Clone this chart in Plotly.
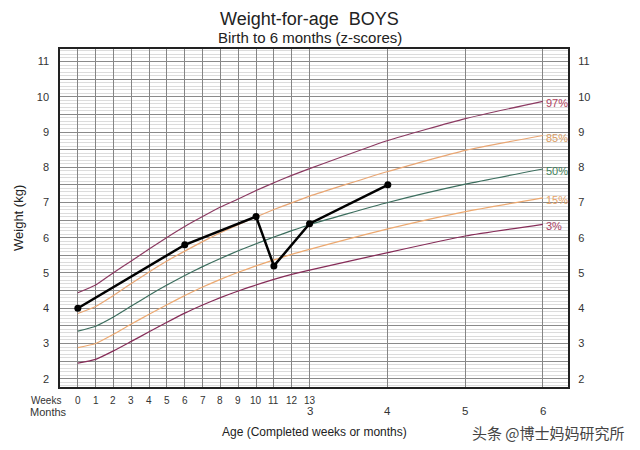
import plotly.graph_objects as go

# ---- data ----
WEEKS_PER_MONTH = 30.4375 / 7
week_ticks = list(range(0, 14))
month_ticks = [3, 4, 5, 6]
age_weeks = list(range(0, 14)) + [m * WEEKS_PER_MONTH for m in [4, 5, 6]]

p97 = [4.44, 4.66, 5.01, 5.34, 5.68, 6.01, 6.32, 6.6, 6.87, 7.1, 7.34, 7.56, 7.77, 7.96, 8.76, 9.38, 9.87]
p85 = [3.85, 4.05, 4.36, 4.7, 5.03, 5.34, 5.62, 5.89, 6.14, 6.37, 6.59, 6.8, 6.99, 7.18, 7.88, 8.48, 8.9]
p50 = [3.35, 3.49, 3.75, 4.06, 4.37, 4.66, 4.93, 5.18, 5.41, 5.63, 5.83, 6.02, 6.2, 6.37, 7.0, 7.52, 7.95]
p15 = [2.88, 3.0, 3.26, 3.55, 3.83, 4.1, 4.36, 4.6, 4.82, 5.02, 5.2, 5.37, 5.53, 5.67, 6.25, 6.74, 7.13]
p3 = [2.44, 2.55, 2.79, 3.06, 3.33, 3.6, 3.86, 4.09, 4.3, 4.49, 4.66, 4.82, 4.96, 5.08, 5.58, 6.05, 6.38]

child_weeks = [0, 6, 10, 11, 13, 4 * WEEKS_PER_MONTH]
child_kg = [4.0, 5.8, 6.6, 5.2, 6.4, 7.5]

y_ticks = [2, 3, 4, 5, 6, 7, 8, 9, 10, 11]

curves = [
    ("97%", p97, "#8c3a62", "#b0435e"),
    ("85%", p85, "#e9a673", "#d99c62"),
    ("50%", p50, "#3c6e5e", "#3f7f5a"),
    ("15%", p15, "#eda970", "#e8a468"),
    ("3%", p3, "#862c58", "#a83d62"),
]

FONT = "Liberation Sans, Arial, sans-serif"

fig = go.Figure()
for name, vals, col, lcol in curves:
    fig.add_trace(go.Scatter(x=age_weeks, y=vals, mode="lines",
                             line=dict(color=col, width=1.2, shape="spline", smoothing=0.5),
                             hoverinfo="skip", showlegend=False))
    fig.add_annotation(x=age_weeks[-1], y=vals[-1], xref="x", yref="y", text=name,
                       showarrow=False, xanchor="left", yanchor="middle", xshift=1, yshift=-2,
                       font=dict(family=FONT, size=11, color=lcol))

fig.add_trace(go.Scatter(x=child_weeks, y=child_kg, mode="lines+markers",
                         line=dict(color="black", width=2.5),
                         marker=dict(color="black", size=7),
                         showlegend=False))
# invisible trace for right axis
fig.add_trace(go.Scatter(x=[age_weeks[0]], y=[p50[0]], yaxis="y2", mode="markers",
                         marker=dict(opacity=0), showlegend=False, hoverinfo="skip"))

half_vals = [v / 2 for v in range(4, 23)]
half_text = [str(int(v)) if v in y_ticks else "" for v in half_vals]

yaxis_common = dict(
    range=[1.765, 11.355], tickmode="array", tickvals=half_vals, ticktext=half_text,
    ticks="outside", ticklen=7, tickcolor="rgba(0,0,0,0)", automargin=False,
    tickfont=dict(family=FONT, size=11, color="#333"), zeroline=False, fixedrange=True,
)

grid_x = week_ticks + [m * WEEKS_PER_MONTH for m in month_ticks[1:]]

fig.update_layout(
    width=640, height=450,
    margin=dict(l=52, r=80, t=41, b=71, autoexpand=False),
    paper_bgcolor="white", plot_bgcolor="white",
    xaxis=dict(range=[-1.0, 27.5], tickmode="array", tickvals=grid_x, showticklabels=False,
               showgrid=True, gridcolor="#858585", gridwidth=1, zeroline=False, automargin=False,
               showline=True, linecolor="#222", linewidth=1.5, mirror=True, ticks=""),
    yaxis=dict(**yaxis_common, side="left", showgrid=True, gridcolor="#8a8a8a", gridwidth=1,
               minor=dict(tickmode="linear", tick0=0, dtick=0.1, showgrid=True,
                          gridcolor="#dcdcdc", gridwidth=1),
               showline=True, linecolor="#222", linewidth=1.5, mirror=True),
    yaxis2=dict(**yaxis_common, side="right", overlaying="y", matches="y", showgrid=False),
)

# title and subtitle
fig.add_annotation(x=0.492, y=1.0, xref="paper", yref="paper", yshift=30, text="Weight-for-age  BOYS",
                   showarrow=False, xanchor="center", yanchor="middle",
                   font=dict(family=FONT, size=18, color="#222"))
fig.add_annotation(x=0.492, y=1.0, xref="paper", yref="paper", yshift=12, text="Birth to 6 months (z-scores)",
                   showarrow=False, xanchor="center", yanchor="middle",
                   font=dict(family=FONT, size=15, color="#222"))
# y title
fig.add_annotation(x=0, y=0.5, xref="paper", yref="paper", xshift=-42, text="Weight (kg)", textangle=-90,
                   showarrow=False, xanchor="center", yanchor="middle",
                   font=dict(family=FONT, size=13, color="#222"))

# week and month tick labels
for w in week_ticks:
    fig.add_annotation(x=w, y=0, xref="x", yref="paper", yshift=-13, text=str(w), showarrow=False,
                       xanchor="center", yanchor="middle", borderpad=0,
                       font=dict(family=FONT, size=10, color="#333"))
for m in month_ticks:
    fig.add_annotation(x=m * WEEKS_PER_MONTH, y=0, xref="x", yref="paper", yshift=-24, text=str(m),
                       showarrow=False, xanchor="center", yanchor="middle", borderpad=0,
                       font=dict(family=FONT, size=11.5, color="#333"))
fig.add_annotation(x=0, y=0, xref="paper", yref="paper", xshift=-31, yshift=-13, text="Weeks",
                   showarrow=False, xanchor="left", yanchor="middle", font=dict(family=FONT, size=10, color="#333"))
fig.add_annotation(x=0, y=0, xref="paper", yref="paper", xshift=-32, yshift=-25, text="Months",
                   showarrow=False, xanchor="left", yanchor="middle", font=dict(family=FONT, size=11, color="#333"))
fig.add_annotation(x=0.5, y=0, xref="paper", yref="paper", yshift=-45, text="Age (Completed weeks or months)",
                   showarrow=False, xanchor="center", yanchor="middle", font=dict(family=FONT, size=12, color="#222"))
# watermark
fig.add_annotation(x=1, y=0, xref="paper", yref="paper", xshift=58, yshift=-45, text="头条 @博士妈妈研究所",
                   showarrow=False, xanchor="right", yanchor="middle", borderpad=0,
                   font=dict(family="Noto Sans CJK SC", size=15, color="#444"))

fig.write_html("out.html")
